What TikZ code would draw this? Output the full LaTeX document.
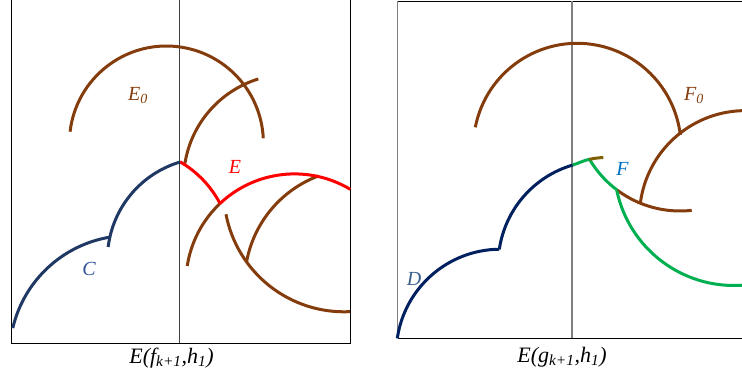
\documentclass[tikz,border=0pt]{standalone}
\usepackage{fontspec}
\setmainfont{Liberation Serif}
\definecolor{cutBrown}{HTML}{843C0C}
\definecolor{cutRed}{HTML}{FF0000}
\definecolor{cutGreen}{HTML}{00B050}
\definecolor{cutOlive}{HTML}{7F6000}
\definecolor{cutSlate}{HTML}{1F3864}
\definecolor{cutNavy}{HTML}{002060}
\definecolor{lblSlate}{HTML}{2F5597}
\definecolor{lblSteel}{HTML}{3B5F8C}
\definecolor{lblAzure}{HTML}{0070C0}
\begin{document}
\begin{tikzpicture}[x=1pt, y=-1pt]
% Two cut regions, coordinates in pixels (y pointing down)
\providecommand{\cutLineWidth}{3pt}
\providecommand{\frameLineWidth}{0.9pt}
\providecommand{\axisLineWidth}{1.2pt}
\tikzset{
  cutcurve/.style={line width=\cutLineWidth, line cap=butt},
  cutlabel/.style={font=\fontsize{20}{24}\selectfont\itshape, inner sep=0pt, anchor=base},
  axislabel/.style={cutlabel, font=\fontsize{22}{26}\selectfont\itshape},
}
% arc of colour #1 round centre #2, radius #3, from angle #4 to angle #5
\newcommand{\cutarc}[5]{\draw[cutcurve, #1] (#2) ++(#4:#3) arc[start angle=#4, end angle=#5, radius=#3];}
\useasboundingbox (0,0) rectangle (742,375);
\begin{scope}
  % Left panel frame and axis
  \draw[line width=\frameLineWidth] (11.7,0) -- (11.7,343) -- (350.3,343) -- (350.3,0);
  \draw[line width=0.8pt, black!75] (179.7,0) -- (179.7,343);
  % Brown arcs
  \cutarc{cutBrown}{166.4,143}{97}{186.7}{357.2}
  \cutarc{cutBrown}{289.4,180.1}{105.8}{189.1}{252.9}
  \cutarc{cutBrown}{294.5,282.4}{108.5}{188.7}{226.4}
  \cutarc{cutBrown}{344.1,191.5}{120.3}{169.1}{87.2}
  \cutarc{cutBrown}{358.4,282.4}{113.7}{190.4}{249.4}
  % Red boundary E
  \cutarc{cutRed}{127.2,252.5}{105}{300.2}{332.1}
  \cutarc{cutRed}{294.5,282.4}{108.5}{226.4}{300.9}
  % Curve C
  \cutarc{cutSlate}{129.6,355.5}{120}{193.2}{260.6}
  \cutarc{cutSlate}{209,259.4}{101.6}{187}{253.4}
  % Labels
  \node[cutlabel, text=cutBrown] (lblEzero) at (138,100) {E\textsubscript{0}};
  \node[cutlabel, text=cutRed] (lblE) at (235,173.3) {E};
  \node[cutlabel, text=lblSlate] (lblC) at (89,275.5) {C};
  \node[axislabel] (lblLeftAxis) at (171.5,363.3) {E(f\textsubscript{k+1},h\textsubscript{1})};
\end{scope}
\begin{scope}
  % Right panel frame and axis
  \draw[line width=\frameLineWidth] (397.7,1.3) -- (742,1.3);
  \draw[line width=\frameLineWidth] (397.7,338) -- (742,338);
  \draw[line width=\axisLineWidth, gray] (397.7,1.3) -- (397.7,338);
  \draw[line width=\axisLineWidth, gray] (572,1.3) -- (572,338);
  % Brown arcs
  \cutarc{cutBrown}{577.2,147.1}{103.8}{191}{353.3}
  \cutarc{cutBrown}{745.5,216.6}{106}{187}{268.1}
  \cutarc{cutBrown}{680,106}{105}{126.8}{83.6}
  % Green boundary F
  \cutarc{cutGreen}{680,106}{105}{149.6}{126.8}
  \cutarc{cutGreen}{734,165.7}{119.8}{168}{86.2}
  % Curve D
  \cutarc{cutNavy}{500.4,353.4}{104.2}{188.3}{269.4}
  \cutarc{cutNavy}{601.7,264.4}{103.5}{188.4}{253.7}
  \draw[cutcurve, cutGreen] (572.7,165) .. controls (578.5,163.3) and (583.5,160.5) .. (589.3,159.3);
  \draw[cutcurve, cutOlive] (589.3,159.3) .. controls (594,158.3) and (598.6,157.8) .. (603.3,157.5);
  % Labels
  \node[cutlabel, text=lblSteel] (lblD) at (414,285.5) {D};
  \node[cutlabel, text=lblAzure] (lblF) at (622.5,175) {F};
  \node[cutlabel, text=cutBrown] (lblFzero) at (694,100) {F\textsubscript{0}};
  \node[axislabel] (lblRightAxis) at (562,362.3) {E(g\textsubscript{k+1},h\textsubscript{1})};
\end{scope}
\end{tikzpicture}
\end{document}
